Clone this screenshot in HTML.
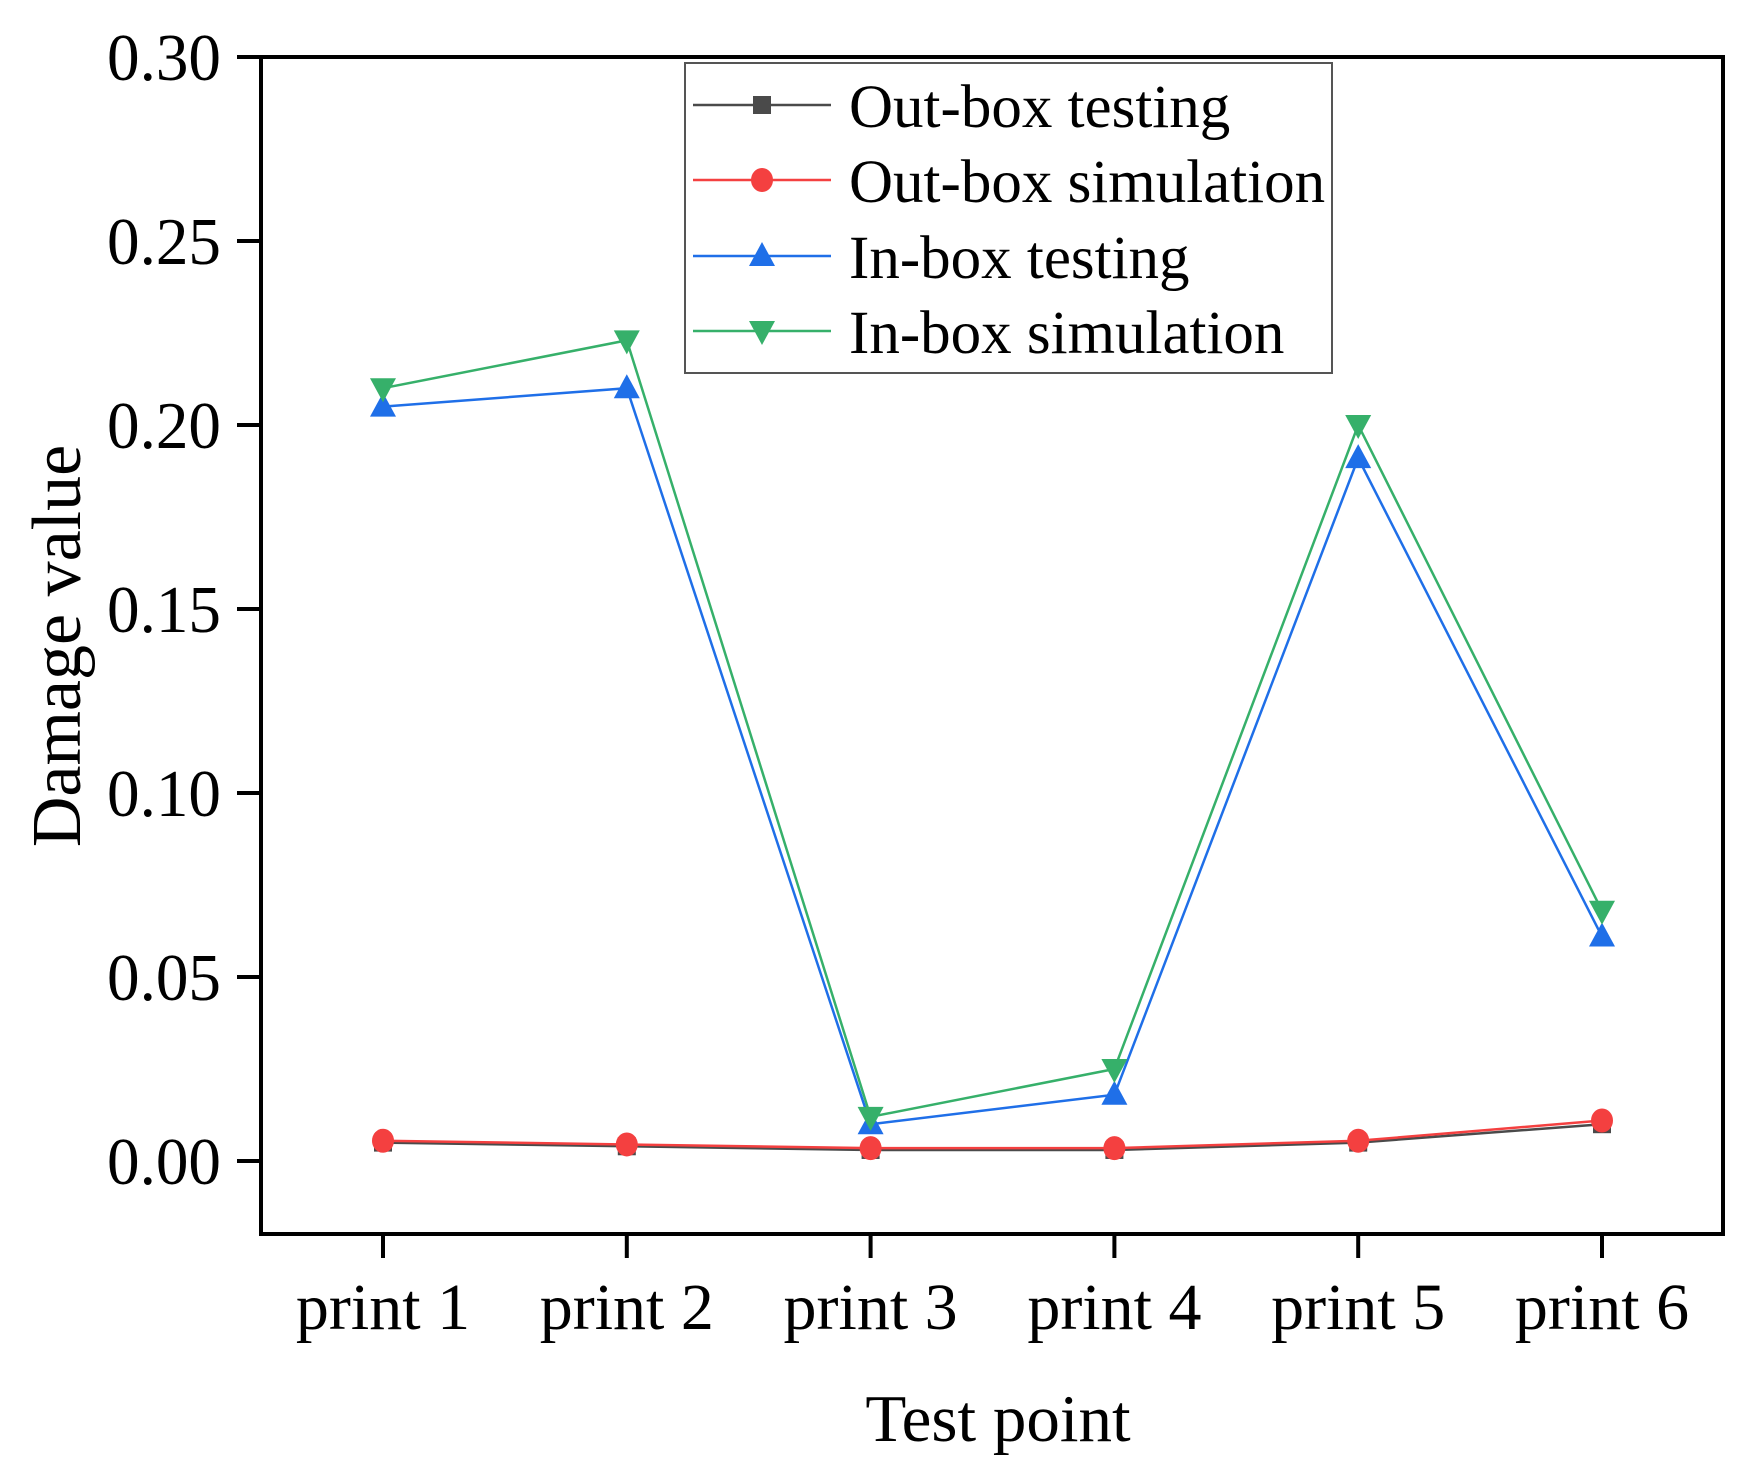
<!DOCTYPE html>
<html><head><meta charset="utf-8"><style>
html,body{margin:0;padding:0;background:#fff;}
svg{display:block;font-family:"Liberation Serif",serif;}
</style></head><body>
<svg id="chart" width="1759" height="1479" viewBox="0 0 1759 1479" xmlns="http://www.w3.org/2000/svg"></svg>
<script>
const categories = ["print 1","print 2","print 3","print 4","print 5","print 6"];
const outBoxTesting = [0.005,0.004,0.003,0.003,0.005,0.010];
const outBoxSimulation = [0.0055,0.0045,0.0035,0.0035,0.0055,0.011];
const inBoxTesting = [0.205,0.210,0.010,0.018,0.191,0.061];
const inBoxSimulation = [0.210,0.223,0.012,0.025,0.200,0.068];
const yTicks = [0,0.05,0.10,0.15,0.20,0.25,0.30];
const yTickLabels = ["0.00","0.05","0.10","0.15","0.20","0.25","0.30"];
const seriesNames = ["Out-box testing","Out-box simulation","In-box testing","In-box simulation"];

const NS="http://www.w3.org/2000/svg";
const svg=document.getElementById('chart');
const L=261,R=1723,T=57,B=1234;
const Y0=1161,Y30=57;
function yScale(v){return Y0-(v/0.30)*(Y0-Y30);}
function xScale(i){return 383+i*243.8;}
function mk(tag,attrs){const e=document.createElementNS(NS,tag);for(const k in attrs)e.setAttribute(k,attrs[k]);svg.appendChild(e);return e;}

const frame=mk('rect',{x:L,y:T,width:R-L,height:B-T,fill:'none',stroke:'#000','stroke-width':4});



yTicks.forEach((v,i)=>{
  const y=yScale(v);
  const t=mk('line',{x1:L-24,x2:L,y1:y,y2:y,stroke:'#000','stroke-width':4});
  
  
  const tx=mk('text',{x:221,y:y+23,'font-size':67,'text-anchor':'end',fill:'#000',textLength:114,lengthAdjust:'spacingAndGlyphs'});
  tx.textContent=yTickLabels[i];
  
  
});
categories.forEach((c,i)=>{
  const x=xScale(i);
  const t=mk('line',{x1:x,x2:x,y1:B,y2:B+24,stroke:'#000','stroke-width':4});
  
  
  const tx=mk('text',{x:x,y:1329,'font-size':66,'text-anchor':'middle',fill:'#000'});
  tx.textContent=c;
  
  
});
const xt=mk('text',{x:998,y:1441,'font-size':67,'text-anchor':'middle',fill:'#000'});
xt.textContent="Test point";


const yt=mk('text',{x:0,y:0,'font-size':70,'text-anchor':'middle',fill:'#000',transform:'translate(80,646) rotate(-90)'});
yt.textContent="Damage value";



function marker(type,x,y,color){
  let e;
  if(type==='square') e=mk('rect',{x:x-9,y:y-9,width:18,height:18,fill:color});
  else if(type==='circle') e=mk('ellipse',{cx:x,cy:y,rx:11,ry:12,fill:color});
  else if(type==='up') e=mk('polygon',{points:`${x},${y-14} ${x-13},${y+10} ${x+13},${y+10}`,fill:color});
  else e=mk('polygon',{points:`${x},${y+14} ${x-13},${y-10} ${x+13},${y-10}`,fill:color});
  return e;
}
const seriesData=[outBoxTesting,outBoxSimulation,inBoxTesting,inBoxSimulation];
const colors=["#4a4a4a","#f44040","#1f6fe8","#36b06a"];
const markers=["square","circle","up","down"];
const keys=["out-box-testing","out-box-simulation","in-box-testing","in-box-simulation"];
seriesData.forEach((d,s)=>{
  const pts=d.map((v,i)=>xScale(i)+','+yScale(v)).join(' ');
  const pl=mk('polyline',{points:pts,fill:'none',stroke:colors[s],'stroke-width':2.5});
  
  
  d.forEach((v,i)=>{
    const m=marker(markers[s],xScale(i),yScale(v),colors[s]);
    
    
  });
});

const lg=mk('rect',{x:685,y:63,width:647,height:310,fill:'#fff',stroke:'#555','stroke-width':2});


const rows=[105,180,256,331];
seriesNames.forEach((n,s)=>{
  const y=rows[s];
  const ln=mk('line',{x1:693,x2:831,y1:y,y2:y,stroke:colors[s],'stroke-width':2.5});
  
  
  const m=marker(markers[s],762,y,colors[s]);
  
  
  const tx=mk('text',{x:849,y:y+22,'font-size':61,fill:'#000'});
  tx.textContent=n;
  
  
});
</script>
</body></html>
